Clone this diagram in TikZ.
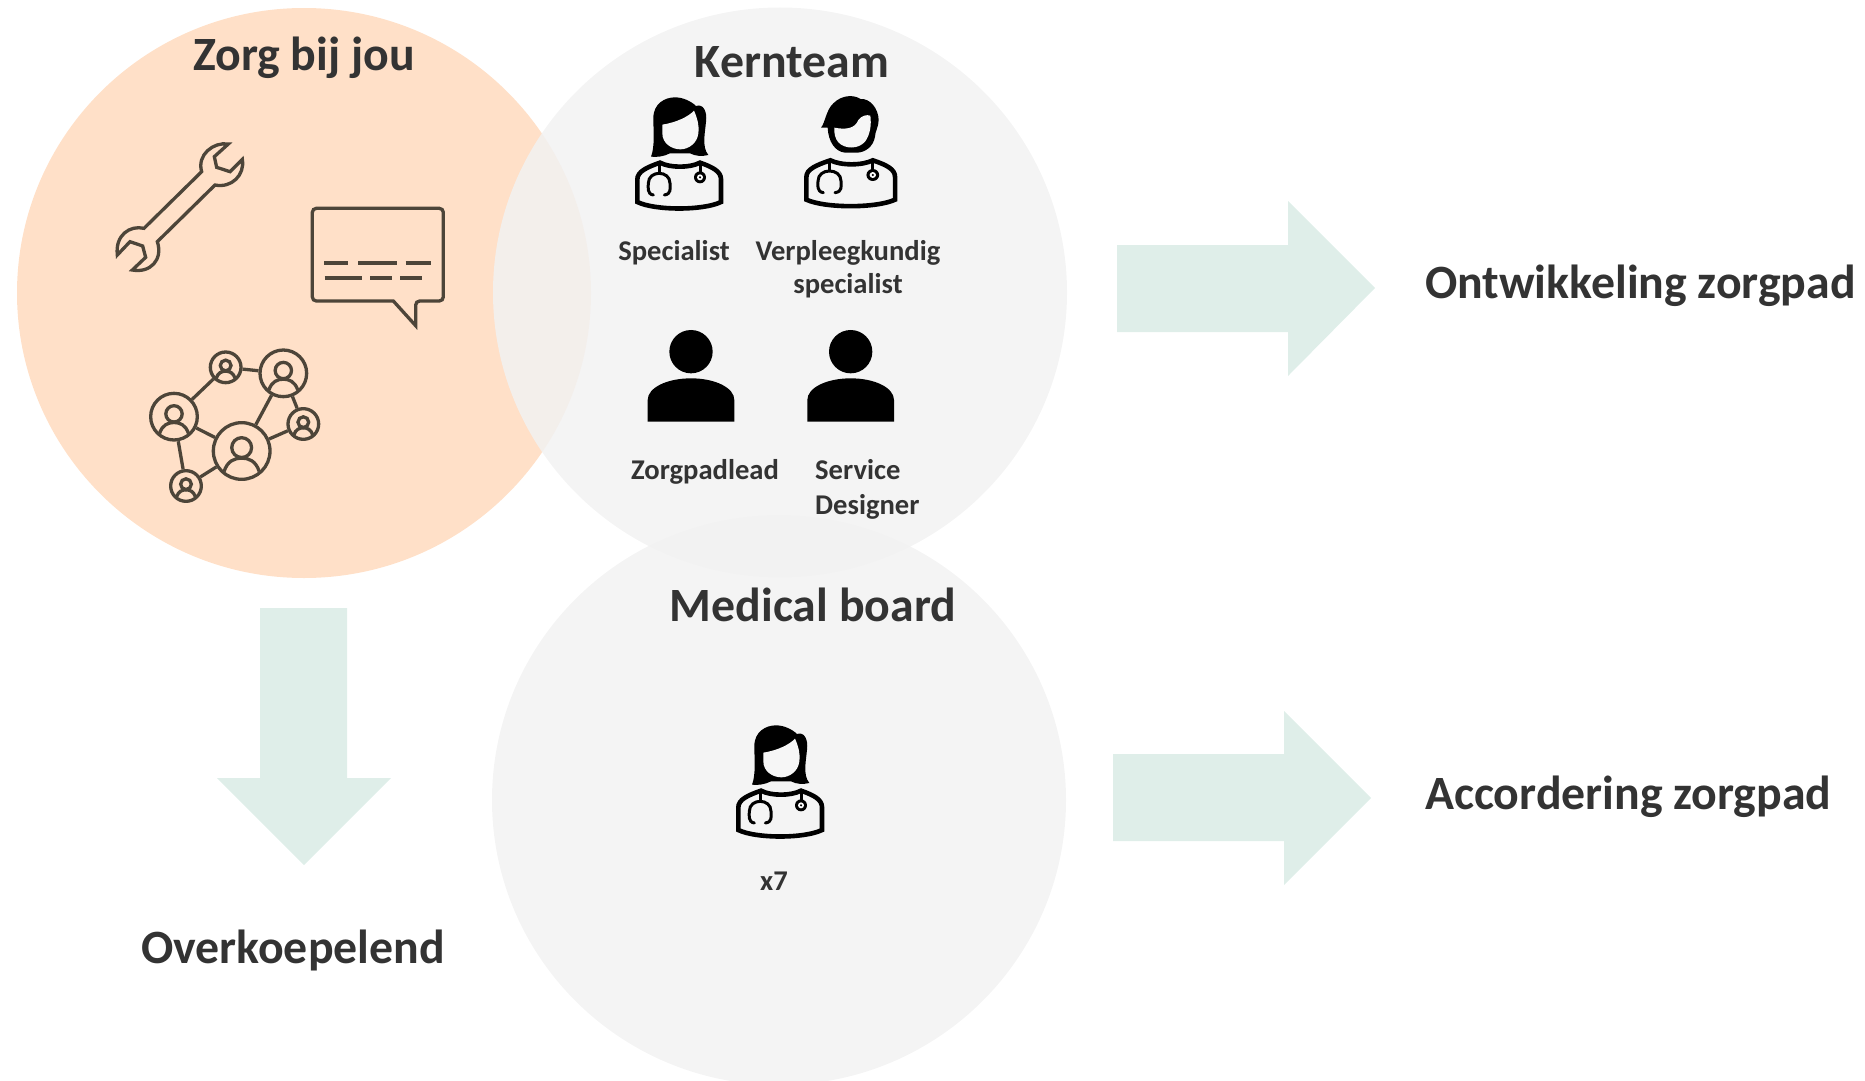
\documentclass[tikz,border=0pt]{standalone}
\usepackage{fontspec}
\setmainfont{Carlito}
\definecolor{orangec}{HTML}{FFE0C8}
\definecolor{grayc}{HTML}{F2F2F2}
\definecolor{facec}{HTML}{F6F6F6}
\definecolor{arrowc}{HTML}{DFEEE9}
\definecolor{textc}{HTML}{333333}
\definecolor{iconc}{HTML}{4D4539}
\tikzset{
  bigt/.style={font=\bfseries\fontsize{47.8}{50}\selectfont,text=textc,inner sep=0pt},
  smallt/.style={font=\bfseries\fontsize{28.6}{31}\selectfont,text=textc,inner sep=0pt},
  disc/.style={fill=grayc,fill opacity=.85,draw=none},
  bigarrow/.style={fill=arrowc,draw=none},
  ico/.style={draw=iconc,line width=3.3pt,fill=none,line join=miter},
  blk/.style={draw=black,line width=4.6pt,fill=none},
  netc/.style={circle,draw=iconc,line width=3.3pt,inner sep=0pt},
  unitz/.style={x=.33333pt,y=-.33333pt}
}
\newcommand{\bodyicon}{%
  \draw[blk] (52,336) -- (52,268) .. controls (52,245) and (80,232) .. (120,218) .. controls (150,234) and (210,234) .. (240,218) .. controls (280,232) and (303,245) .. (303,268) -- (303,336) .. controls (250,362) and (105,362) .. (52,336) -- cycle;
  \draw[black,line width=3pt] (118,222) -- (118,250);
  \draw[black,line width=3pt,line cap=round] (100,315) .. controls (80,312) and (85,290) .. (85,280) .. controls (85,240) and (150,240) .. (150,280) .. controls (150,295) and (155,312) .. (133,315);
  \draw[black,line width=3pt] (240,222) -- (240,250);
  \fill[black] (240,262) circle (18);
  \fill[white] (240,262) circle (9);
  \fill[black] (240,262) circle (3.5);
}
\newcommand{\womanicon}{%
  \bodyicon
  \fill[black] (93,200) .. controls (105,170) and (100,120) .. (100,85) .. controls (100,40) and (135,22) .. (165,22) .. controls (190,22) and (215,35) .. (228,48) .. controls (250,40) and (262,65) .. (258,95) .. controls (255,130) and (245,170) .. (265,195) .. controls (245,200) and (225,198) .. (210,190) -- (150,190) .. controls (130,200) and (110,202) .. (93,200) -- cycle;
  \fill[facec] (127,104) .. controls (170,97) and (205,80) .. (222,62) .. controls (232,85) and (238,105) .. (235,130) .. controls (232,160) and (205,178) .. (181,178) .. controls (155,178) and (127,160) .. (127,130) -- cycle;
}
\newcommand{\manicon}{%
  \begin{scope}[shift={(-6,8)},x=.3533pt]\bodyicon\end{scope}
  \fill[black] (93,128) .. controls (105,115) and (108,75) .. (130,55) .. controls (155,30) and (190,28) .. (212,42) .. controls (240,40) and (265,70) .. (266,105) .. controls (266,125) and (255,140) .. (255,155) .. controls (250,185) and (225,203) .. (200,203) -- (165,203) .. controls (135,200) and (115,170) .. (113,128) -- cycle;
  \fill[facec] (133,128) .. controls (170,135) and (195,130) .. (205,105) .. controls (215,92) and (230,88) .. (241,92) .. controls (245,120) and (240,150) .. (225,170) .. controls (205,193) and (165,193) .. (145,172) .. controls (135,160) and (132,145) .. (133,128) -- cycle;
}
\newcommand{\personsil}[2]{%
  \fill[black] (#1,#2) circle (65);
  \fill[black] (#1-130,#2+210) -- (#1-130,#2+145) .. controls (#1-130,#2+108) and (#1-72,#2+80) .. (#1,#2+80) .. controls (#1+72,#2+80) and (#1+130,#2+108) .. (#1+130,#2+145) -- (#1+130,#2+210) -- cycle;
}
% name, x, y, radius (zoom units: 1/3 px)
\newcommand{\netperson}[4]{%
  \node[netc,minimum size={2*#4/3*1pt}] (#1) at (#2,#3) {};
  \draw[iconc,line width=3.3pt] (#2,{#3-.12*#4}) circle ({.35*#4});
  \draw[iconc,line width=3.3pt] ({#2-.62*#4},{#3+.72*#4}) .. controls ({#2-.5*#4},{#3+.35*#4}) and ({#2-.25*#4},{#3+.25*#4}) .. (#2,{#3+.25*#4}) .. controls ({#2+.25*#4},{#3+.25*#4}) and ({#2+.5*#4},{#3+.35*#4}) .. ({#2+.62*#4},{#3+.72*#4});
}
\begin{document}
\begin{tikzpicture}[x=1pt,y=-1pt]
\useasboundingbox (0,0) rectangle (1865,1081);
% discs
\fill[orangec] (304,293) ellipse [x radius=287,y radius=285];
\fill[disc] (780,292.5) ellipse [x radius=287,y radius=285];
\fill[disc] (779,800) ellipse [x radius=287,y radius=285];
% arrows
\fill[bigarrow] (1117,245) -- (1288,245) -- (1288,201) -- (1375,288) -- (1288,376) -- (1288,332) -- (1117,332) -- cycle;
\fill[bigarrow] (1113,754) -- (1284,754) -- (1284,711) -- (1371,798) -- (1284,885) -- (1284,841) -- (1113,841) -- cycle;
\fill[bigarrow] (260,608) -- (347,608) -- (347,778) -- (391,778) -- (304,865) -- (217,778) -- (260,778) -- cycle;
% titles
\node[bigt] (t1) at (304,58) {Zorg bij jou};
\node[bigt] (t2) at (792,62) {Kernteam};
\node[bigt] (t3) at (813,605) {Medical board};
\node[bigt] (t4) at (293,950) {Overkoepelend};
\node[bigt,anchor=west] (t5) at (1425,286) {Ontwikkeling zorgpad};
\node[bigt,anchor=west] (t6) at (1425,797) {Accordering zorgpad};
% labels
\node[smallt] (l1) at (674,253) {Specialist};
\node[smallt] (l2) at (848,253) {Verpleegkundig};
\node[smallt] (l3) at (848,286) {specialist};
\node[smallt] (l4) at (705,472) {Zorgpadlead};
\node[smallt,anchor=west] (l5) at (815,470) {Service};
\node[smallt,anchor=west] (l6) at (815,507) {Designer};
\node[smallt] (l7) at (774,881) {x7};
% doctors
\begin{scope}[shift={(620,90)},unitz]\womanicon\end{scope}
\begin{scope}[shift={(790,85)},unitz]\manicon\end{scope}
\begin{scope}[shift={(721,718)},unitz]\womanicon\end{scope}
% silhouettes
\begin{scope}[shift={(610,80)},unitz]
  \personsil{243}{815}
  \personsil{722}{815}
\end{scope}
% wrench, speech bubble and network
\begin{scope}[shift={(100,120)},unitz]
  \draw[ico] (385,72) .. controls (340,65) and (290,105) .. (305,155) -- (132,325) .. controls (90,315) and (45,345) .. (52,405) -- (90,365) -- (128,378) -- (137,412) -- (97,450) .. controls (150,460) and (190,420) .. (172,365) -- (345,195) .. controls (395,205) and (435,165) .. (427,118) -- (390,155) -- (350,142) -- (343,110) -- cycle;
  \draw[ico,rounded corners=4pt] (637,265) -- (1030,265) -- (1030,543) -- (947,543) [sharp corners] -- (947,617) -- (880,543) [rounded corners=4pt] -- (637,543) -- cycle;
  \foreach \a/\b/\c in {672/743/428,775/892/428,917/993/428,674/785/474,810/875/474,900/966/474}
    \draw[iconc,line width=4pt] (\a,\c) -- (\b,\c);
  \netperson{c1}{222}{890}{70}
  \netperson{c2}{377}{742}{46}
  \netperson{c3}{550}{760}{70}
  \netperson{c4}{610}{912}{46}
  \netperson{c5}{425}{993}{85}
  \netperson{c6}{258}{1098}{46}
  \foreach \a/\b in {c1/c2,c2/c3,c3/c5,c3/c4,c4/c5,c1/c5,c1/c6,c5/c6}
    \draw[iconc,line width=3.3pt] (\a) -- (\b);
\end{scope}
\end{tikzpicture}
\end{document}
